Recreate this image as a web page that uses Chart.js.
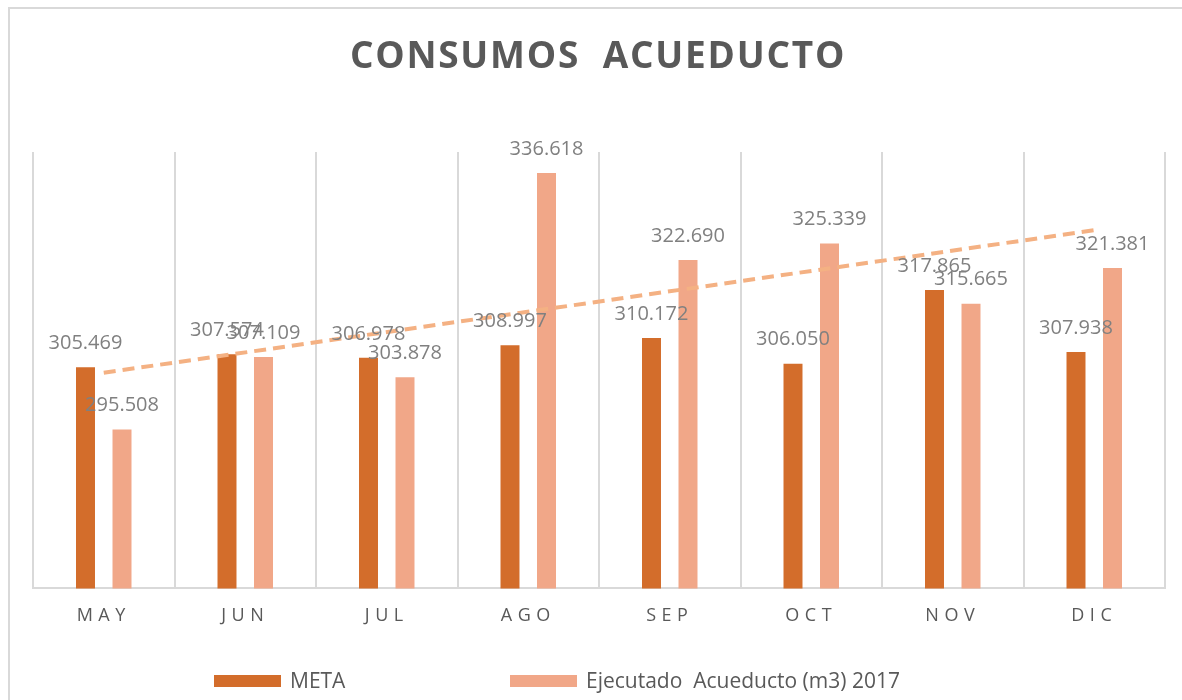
<!DOCTYPE html>
<html>
<head>
<meta charset="utf-8">
<script src="https://cdn.jsdelivr.net/npm/chart.js@4.4.1/dist/chart.umd.min.js"></script>
<style>
  html, body { margin: 0; padding: 0; background: #ffffff; }
  #page { position: relative; width: 1182px; height: 700px; overflow: hidden; font-family: "Open Sans", sans-serif; }
  #frame { position: absolute; left: 8px; top: 7px; width: 1300px; height: 900px; border: 2px solid #d9d9d9; }
  #chartBox { position: absolute; left: 0; top: 0; width: 1182px; height: 700px; }
  #title { position: absolute; left: 0; top: 35px; width: 1196px; text-align: center; font-size: 37px; line-height: 37px;
           font-weight: 700; color: #595959; letter-spacing: 1.75px; }
  .legItem { position: absolute; top: 667px; height: 26px; font-size: 21px; line-height: 26px; color: #595959; white-space: pre; }
  .legItem span { display: inline-block; width: 67px; height: 12px; margin-right: 9px; vertical-align: 1px; }
</style>
</head>
<body>
<div id="page">
  <div id="frame"></div>
  <div id="chartBox"><canvas id="chart" width="1182" height="700"></canvas></div>
  <div id="title">CONSUMOS&nbsp; ACUEDUCTO</div>
  <div class="legItem" style="left:214px"><span style="background:#d36d2b"></span>META</div>
  <div class="legItem" style="left:510px"><span style="background:#f1a788"></span>Ejecutado  Acueducto (m3) 2017</div>
</div>
<script>
const months = ['MAY', 'JUN', 'JUL', 'AGO', 'SEP', 'OCT', 'NOV', 'DIC'];
const meta = [305469, 307574, 306978, 308997, 310172, 306050, 317865, 307938];
const ejecutado = [295508, 307109, 303878, 336618, 322690, 325339, 315665, 321381];
// trend line at its two ends (MAY and DIC)
const tendencia = [304590, null, null, null, null, null, null, 327450];

function miles(v) {
   return String(v).replace(/\B(?=(\d{3})+(?!\d))/g, '.');
}

const labelsPlugin = {
   id: 'barLabels',
   afterDatasetsDraw(chart) {
      let ctx = chart.ctx;
      ctx.save();
      ctx.font = '20px "Open Sans"';
      ctx.fillStyle = '#808080';
      ctx.textAlign = 'center';
      ctx.textBaseline = 'middle';
      chart.data.datasets.forEach(function (ds, i) {
         if (ds.type !== 'bar') return;
         let meta = chart.getDatasetMeta(i);
         meta.data.forEach(function (bar, j) {
            ctx.fillText(miles(ds.data[j]), bar.x, bar.y - 24);
         });
      });
      ctx.restore();
      // month ticks are drawn after this (ticks z = 1), spaced out like the original
      ctx.letterSpacing = '5.5px';
   },
   afterDraw(chart) {
      chart.ctx.letterSpacing = '0px';
   }
};

new Chart(document.getElementById('chart'), {
   data: {
      labels: months,
      datasets: [
         { type: 'line', label: 'Tendencia', data: tendencia, borderColor: '#f4b183', borderWidth: 4,
           borderDash: [12, 7], pointRadius: 0, spanGaps: true, fill: false, order: 0 },
         { type: 'bar', label: 'META', data: meta, backgroundColor: '#d36d2b', order: 1,
           categoryPercentage: 0.516, barPercentage: 0.52 },
         { type: 'bar', label: 'Ejecutado  Acueducto (m3) 2017', data: ejecutado, backgroundColor: '#f1a788', order: 1,
           categoryPercentage: 0.516, barPercentage: 0.52 }
      ]
   },
   options: {
      responsive: false,
      animation: false,
      layout: { padding: { left: 33, right: 17, top: 152, bottom: 56 } },
      plugins: { legend: { display: false }, title: { display: false }, tooltip: { enabled: false } },
      scales: {
         x: {
            offset: true,
            grid: { display: true, offset: true, color: '#d9d9d9', lineWidth: 2, drawTicks: false },
            border: { display: true, color: '#d9d9d9', width: 2 },
            ticks: { z: 1, padding: 17, color: '#595959', font: { family: 'Open Sans', size: 18 } }
         },
         y: { display: false, min: 270000, max: 340000 }
      }
   },
   plugins: [labelsPlugin]
});
</script>
</body>
</html>
